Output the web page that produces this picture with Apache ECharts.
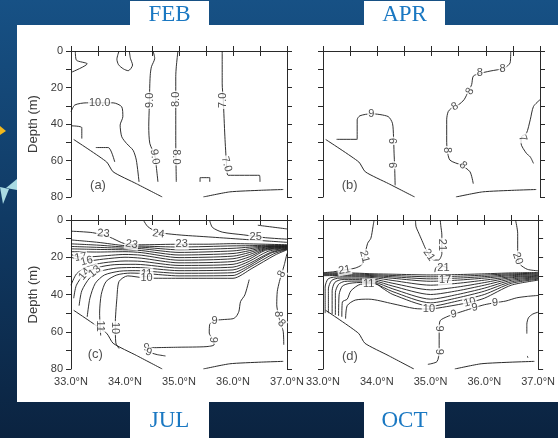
<!DOCTYPE html>
<html>
<head>
<meta charset="utf-8">
<script src="https://cdn.jsdelivr.net/npm/echarts@6/dist/echarts.min.js"></script>
<style>
  html, body { margin: 0; padding: 0; }
  #chart { width: 558px; height: 438px; }
</style>
</head>
<body>
<div id="chart"></div>
<script>
// Latitude / depth axes
const latTicks = [33.0, 34.0, 35.0, 36.0, 37.0];
const depthTicks = [0, 20, 40, 60, 80];
const panelMonths = ['FEB', 'APR', 'JUL', 'OCT'];
const panelTags = ['(a)', '(b)', '(c)', '(d)'];

// Sea-floor profile (same section in every month)
const bottomTopo = [
  [[33.05, 48.5], [33.66, 60.8], [33.78, 66.2], [34.21, 72.7], [34.69, 80]],
  [[35.45, 80], [35.94, 77.2], [36.53, 76.3], [36.93, 75.9]]
];

// February isotherms: [level, [lat, depth] ...]
const febLines = [
  [10, [[33.08, 0], [33.1, 5], [33.3, 7], [33.02, 11.5]]],
  [10, [[33.89, 0], [33.85, 4.5], [33.88, 7.5], [33.97, 9.8], [34.06, 10.8], [34.14, 7.7], [34.1, 4], [34.08, 0]]],
  [10, [[33.0, 33.3], [33.07, 29.6], [33.29, 28.4], [33.78, 28.4], [33.94, 30.6], [33.96, 36], [33.91, 40.6], [33.94, 47], [34.03, 50.7], [34.15, 54.4], [34.21, 59.8], [34.26, 71.7]]],
  [10, [[33.01, 41], [33.2, 42], [33.2, 48]]],
  [10, [[33.46, 52.9], [33.69, 52.9], [33.81, 60.8]]],
  [9, [[34.52, 0], [34.55, 4], [34.49, 8.6], [34.47, 12.3], [34.46, 17.8], [34.45, 30], [34.44, 41.5], [34.46, 50.7], [34.55, 57.1], [34.58, 63.5], [34.61, 71.7]]],
  [8, [[34.98, 0], [34.95, 8.6], [34.94, 14], [34.94, 37.9], [34.94, 48.9], [34.95, 71.7]]],
  [7, [[35.80, 0], [35.80, 18], [35.82, 26.9], [35.85, 47], [35.88, 61.7], [35.91, 68.1], [36.49, 68.1], [36.5, 71.7]]],
  [7, [[35.39, 71.7], [35.39, 69.4], [35.57, 69.4], [35.57, 71.7]]]
];
const febLabels = [
  [33.53, 28.4, '10.0', 0], [34.46, 27, '9.0', 90], [34.55, 58, '9.0', -80],
  [34.94, 26.5, '8.0', 90], [34.94, 58, '8.0', -90], [35.82, 27, '7.0', 90], [35.88, 62, '7.0', -75]
];

// April isotherms
const aprLines = [
  [9, [[33.25, 48.4], [33.63, 48.4], [33.63, 37.7], [33.68, 35.5], [33.89, 34.4], [34.2, 35.9], [34.28, 39.6], [34.3, 46.9], [34.31, 56], [34.32, 62.6], [34.33, 73.6]]],
  [8, [[36.46, 0.5], [36.45, 6.4], [36.34, 9.4], [36.08, 11], [35.89, 12.3], [35.77, 13.8], [35.74, 18.4], [35.68, 22.1], [35.6, 26.7], [35.5, 29.4], [35.41, 30.4], [35.31, 33.1], [35.28, 37.7], [35.28, 48.8], [35.29, 54.3], [35.34, 59.8], [35.55, 62.6], [35.71, 66.2], [35.77, 72.7]]],
  [7, [[37.0, 26.7], [36.88, 30.4], [36.82, 37.7], [36.75, 45.1], [36.66, 46.9], [36.65, 50.6], [36.75, 56.1], [36.82, 58], [36.88, 61.6]]]
];
const aprLabels = [
  [33.89, 34.4, '9', 0], [34.31, 49.3, '9', 90], [34.31, 62.6, '9', 90],
  [36.31, 9.6, '8', 0], [35.89, 12.3, '8', 0], [35.71, 22.1, '8', 60], [35.43, 30.4, '8', 30],
  [35.28, 54.3, '8', -90], [35.58, 62.6, '8', -45], [36.68, 47.8, '7', -70]
];

// July isotherms (strong thermocline)
const julLines = [
  [26, [[36.46, 2.8], [37.0, 4.8]]],
  [25, [[35.57, 0.5], [35.62, 4], [35.8, 6.5], [36.2, 8], [36.6, 9.5], [37.0, 10.3]]],
  [24, [[34.35, 0.5], [34.42, 3.5], [34.6, 6.5], [35.0, 8], [35.5, 9], [36.0, 10], [36.5, 11], [37.0, 12]]],
  [23, [[33.0, 6], [33.4, 6.8], [33.7, 9], [34.0, 12.8], [34.3, 13.3], [35.0, 13], [35.5, 13], [36.0, 12.7], [36.6, 13], [37.0, 13.3]]],
  [22, [[33.0, 10.7], [33.5, 12], [34.0, 13.8], [34.3, 14], [35.0, 14.5], [36.0, 13.9], [36.3, 13.8], [36.6, 13.6], [37.0, 13.6]]],
  [21, [[33.0, 12.8], [33.5, 13.5], [34.0, 14.5], [34.3, 14.6], [35.0, 16], [36.0, 15.2], [36.3, 14.6], [36.6, 14], [37.0, 13.8]]],
  [20, [[33.0, 14.2], [33.5, 14.7], [34.0, 15.2], [34.3, 15.4], [35.0, 17.4], [36.0, 16.6], [36.3, 15.5], [36.6, 14.3], [37.0, 14]]],
  [19, [[33.0, 15.5], [33.5, 15.8], [34.0, 16], [34.3, 16.4], [35.0, 18.8], [36.0, 18], [36.3, 16.5], [36.6, 14.6], [37.0, 14.2]]],
  [18, [[33.0, 17], [33.5, 17.2], [34.0, 17], [34.3, 17.5], [35.0, 20.2], [36.0, 19.4], [36.3, 17.5], [36.6, 15], [37.0, 14.4]]],
  [17, [[33.0, 18.5], [33.18, 20], [33.5, 19.5], [34.0, 18.5], [34.3, 18.9], [35.0, 21.6], [36.0, 20.8], [36.3, 18.6], [36.6, 15.4], [37.0, 14.6]]],
  [16, [[33.0, 20], [33.29, 22], [33.6, 21], [34.0, 20], [34.3, 20.5], [35.0, 23], [36.0, 22.3], [36.3, 19.8], [36.6, 15.8], [37.0, 14.8]]],
  [15, [[33.0, 35], [33.1, 29], [33.3, 25], [33.6, 23], [34.0, 22], [34.3, 22.2], [35.0, 24.4], [36.0, 23.8], [36.3, 21], [36.6, 16.3], [37.0, 15]]],
  [14, [[33.05, 42], [33.1, 35], [33.25, 29], [33.5, 25.5], [33.8, 24], [34.2, 23.8], [35.0, 25.8], [36.0, 25.3], [36.3, 22.2], [36.65, 16.8], [37.0, 15.2]]],
  [13, [[33.15, 46], [33.2, 38], [33.35, 31], [33.55, 27.5], [33.85, 25.8], [34.2, 25.5], [35.0, 27.2], [36.0, 26.8], [36.3, 23.4], [36.7, 17.3], [37.0, 15.4]]],
  [12, [[33.3, 52], [33.35, 42], [33.45, 34], [33.62, 29.5], [33.9, 27.5], [34.2, 27.2], [35.0, 28.6], [36.0, 28.3], [36.3, 24.5], [36.7, 17.8], [37.0, 15.6]]],
  [11, [[33.55, 62], [33.53, 50], [33.56, 40], [33.65, 33], [33.85, 29.5], [34.1, 28.5], [34.4, 28.8], [35.0, 30], [36.0, 29.8], [36.3, 25.5], [36.75, 18.2], [37.0, 15.8]]],
  [10, [[33.89, 69], [33.83, 66], [33.82, 56], [33.85, 42], [33.89, 33], [34.05, 30], [34.4, 31.2], [35.0, 31.3], [36.0, 31.3], [36.35, 26], [36.78, 18.8], [37.0, 16]]],
  [9, [[36.3, 32], [36.22, 40.2], [36.14, 43.8], [36.11, 49], [36.06, 51.8], [36.0, 53], [35.8, 53.5], [35.66, 54], [35.57, 56], [35.56, 60.7], [35.63, 64.3], [35.65, 67], [35.5, 68], [35.0, 68.3], [34.45, 68.6]]],
  [9, [[34.5, 71.5], [34.6, 72.3], [34.75, 73]]],
  [8, [[37.0, 18], [36.95, 24], [36.9, 29], [36.86, 33], [36.82, 38.4], [36.81, 45.5], [36.84, 50.9], [36.88, 55.5], [36.93, 59.8], [36.94, 67]]]
];
const julLabels = [
  [33.6, 7.3, '23', -5], [34.12, 13, '23', -10], [35.05, 13, '23', 0], [34.62, 7.4, '24', -8], [36.42, 9.3, '25', 0],
  [33.18, 20, '17', 10], [33.29, 22, '16', 15], [33.25, 29, '14', 50], [33.44, 27.6, '13', 40],
  [34.4, 28.8, '11', 0], [34.4, 31.3, '10', 0], [33.53, 57, '11', -90], [33.82, 58, '10', -90],
  [35.66, 54, '9', 0], [35.63, 64.3, '9', -90], [34.4, 68.6, '9', 0], [34.44, 71, '9', -20],
  [36.9, 29, '8', 60], [36.84, 50.5, '8', -90], [36.9, 55.5, '8', -45]
];

// October isotherms (deeper thermocline)
const octLines = [
  [21, [[33.95, 0], [33.93, 3.5], [33.89, 9.8], [33.83, 12.5], [33.77, 19.7], [33.72, 24], [33.6, 25.8], [33.4, 26.8], [33.2, 27.8], [33.0, 28.3]]],
  [21, [[34.72, 0], [34.73, 3.6], [34.78, 7], [34.84, 11], [34.9, 15], [34.97, 18.8], [35.05, 21.5], [35.15, 21.5], [35.21, 18], [35.21, 13.4], [35.21, 8], [35.19, 3], [35.18, 0]]],
  [21, [[35.08, 28], [35.1, 25.5], [35.2, 24.6], [35.32, 25.8]]],
  [20, [[36.58, 0], [36.62, 7.2], [36.62, 15.2], [36.62, 20.6], [36.67, 24], [36.8, 26.5], [37.0, 27.3]]],
  [20, [[33.0, 28.6], [33.3, 28.3], [33.6, 28.5], [33.95, 28.9], [34.3, 29.1], [35.0, 29.5], [35.5, 29.3], [36.0, 28.9], [36.5, 28.4], [37.0, 28.2]]],
  [19, [[33.0, 29], [33.3, 28.8], [33.6, 29], [33.95, 29.4], [34.3, 29.8], [35.0, 30.5], [35.5, 30.2], [36.0, 29.6], [36.5, 28.9], [37.0, 28.6]]],
  [18, [[33.0, 29.4], [33.3, 29.3], [33.6, 29.5], [33.95, 29.9], [34.3, 30.5], [35.0, 31.6], [35.5, 31.2], [36.0, 30.4], [36.5, 29.4], [37.0, 29]]],
  [17, [[33.0, 29.9], [33.3, 29.8], [33.6, 30], [33.95, 30.4], [34.3, 31.3], [35.0, 32.9], [35.5, 32.3], [36.0, 31.2], [36.5, 29.9], [37.0, 29.4]]],
  [16, [[33.04, 50], [33.04, 36], [33.1, 31.5], [33.3, 30.5], [33.6, 30.5], [33.95, 31], [34.3, 32.5], [35.0, 35], [35.5, 34], [36.0, 32.3], [36.5, 30.5], [37.0, 29.8]]],
  [15, [[33.1, 50], [33.1, 37], [33.16, 32.5], [33.3, 31.2], [33.6, 31.2], [33.95, 31.8], [34.3, 34], [35.0, 37.5], [35.5, 36], [36.0, 33.6], [36.5, 31], [37.0, 30.2]]],
  [14, [[33.17, 50.5], [33.17, 38], [33.22, 33.5], [33.35, 32], [33.6, 32], [33.95, 32.6], [34.3, 35.5], [35.0, 40], [35.5, 38], [36.0, 35], [36.5, 31.7], [37.0, 30.6]]],
  [13, [[33.23, 51], [33.23, 39], [33.29, 34.5], [33.4, 33], [33.65, 32.8], [33.95, 33.3], [34.3, 37], [35.0, 42.5], [35.5, 40], [36.0, 36.6], [36.5, 32.4], [37.0, 31]]],
  [12, [[33.29, 51.5], [33.3, 40], [33.36, 35.5], [33.5, 34], [33.75, 33.5], [33.95, 34], [34.3, 38.5], [35.0, 44.5], [35.5, 41.8], [36.0, 38.2], [36.5, 33.2], [37.0, 31.4]]],
  [11, [[33.35, 52], [33.36, 44], [33.45, 42.5], [33.52, 38], [33.7, 34.5], [33.98, 34.2], [34.1, 36.5], [34.3, 40], [35.0, 46.3], [35.5, 43.5], [36.0, 40], [36.5, 34], [37.0, 31.8]]],
  [10, [[33.42, 53], [33.45, 46], [33.6, 43], [33.85, 42.5], [34.3, 45], [34.7, 47.5], [34.97, 47.8], [35.3, 46.5], [35.73, 44.2], [36.0, 42], [36.5, 35], [37.0, 32.3]]],
  [9, [[34.95, 77.5], [35.12, 76], [35.16, 70], [35.16, 58], [35.18, 54], [35.3, 52], [35.43, 50.6], [35.6, 49], [35.82, 47], [36.0, 45.5], [36.2, 44.4], [36.4, 43.5], [36.6, 41.8], [36.8, 41], [37.0, 40.5]]],
  [8, [[37.0, 49.5], [36.9, 50.5], [36.82, 52.5], [36.79, 56], [36.79, 61]]],
  [8, [[36.8, 73], [36.81, 74]]]
];
const octLabels = [
  [33.77, 19.7, '21', -75], [33.4, 26.8, '21', 10], [34.97, 18.8, '21', -55], [35.21, 13.4, '21', -90],
  [35.24, 25.8, '21', 0], [35.27, 32.4, '17', 0], [33.85, 34.3, '11', 0],
  [34.97, 47.8, '10', 0], [35.73, 44.2, '10', 15], [35.43, 50.6, '9', 10], [35.82, 47, '9', 10], [36.2, 44.4, '9', 5],
  [35.16, 58.3, '9', -90], [35.16, 70.8, '9', -90], [36.62, 20.6, '20', -70]
];

const panelLines = [febLines, aprLines, julLines, octLines];
const panelLabels = [febLabels, aprLabels, julLabels, octLabels];
const panelTagPos = [[33.5, 73.5], [33.49, 73.6], [33.45, 72], [33.5, 73]];

const grids = [
  { left: 71, top: 51, width: 216, height: 146 },
  { left: 323, top: 51, width: 217, height: 146 },
  { left: 71, top: 220, width: 216, height: 149 },
  { left: 323, top: 220, width: 217, height: 149 }
];

const AX = '#2a2a2a';
const TXT = '#3a3a3a';
const FONT = 'Liberation Sans';

const xAxes = [], yAxes = [], series = [];
for (let i = 0; i < 4; i++) {
  const showX = i >= 2, showY = i % 2 === 0;
  const base = { type: 'value', gridIndex: i, min: 33, max: 37, interval: 0.5,
    axisLine: { lineStyle: { color: AX, width: 1 } },
    axisTick: { lineStyle: { color: AX }, length: 5 },
    splitLine: { show: false } };
  xAxes[i] = Object.assign({}, base, { position: 'bottom',
    axisLabel: { show: showX, color: TXT, fontFamily: FONT, fontSize: 11, margin: 7, showMinLabel: true, showMaxLabel: true,
      formatter: v => latTicks.indexOf(v) >= 0 ? v.toFixed(1) + '°N' : '' } });
  xAxes[i + 4] = Object.assign({}, base, { position: 'top', axisLabel: { show: false } });
  const ybase = { type: 'value', gridIndex: i, min: 0, max: 80, interval: 10, inverse: true,
    axisLine: { lineStyle: { color: AX, width: 1 } },
    axisTick: { lineStyle: { color: AX }, length: 5 },
    splitLine: { show: false } };
  yAxes[i] = Object.assign({}, ybase, { position: 'left',
    name: showY ? 'Depth (m)' : '', nameLocation: 'middle', nameGap: 31,
    nameTextStyle: { color: TXT, fontFamily: FONT, fontSize: 13 },
    axisLabel: { show: showY, color: TXT, fontFamily: FONT, fontSize: 11, margin: 8,
      formatter: v => depthTicks.indexOf(v) >= 0 ? String(v) : '' } });
  yAxes[i + 4] = Object.assign({}, ybase, { position: 'right', axisLabel: { show: false } });

  const lineStyle = { color: '#1a1a1a', width: 0.9 };
  panelLines[i].forEach(([level, pts]) => {
    series.push({ type: 'line', name: panelMonths[i] + ' ' + level, xAxisIndex: i, yAxisIndex: i,
      data: pts, showSymbol: false, smooth: 0.25, lineStyle, silent: true, z: 2 });
  });
  bottomTopo.forEach(pts => {
    series.push({ type: 'line', xAxisIndex: i, yAxisIndex: i, data: pts, showSymbol: false,
      smooth: 0.2, lineStyle: { color: '#2a2a2a', width: 1 }, silent: true, z: 2 });
  });
  // Contour value labels, drawn on a white patch that breaks the line
  const labelData = panelLabels[i].map(([x, y, t, r]) => ({ value: [x, y], name: t,
    label: { rotate: r } }));
  labelData.push({ value: panelTagPos[i], name: panelTags[i],
    label: { backgroundColor: 'transparent', fontSize: 13, rotate: 0 } });
  series.push({ type: 'scatter', xAxisIndex: i, yAxisIndex: i, data: labelData,
    symbol: 'circle', symbolSize: 1, itemStyle: { color: 'rgba(0,0,0,0)' }, silent: true, z: 5,
    label: { show: true, position: 'inside', formatter: '{b}', color: '#222', fontFamily: FONT,
      fontSize: 11, backgroundColor: '#fff', padding: [0, 1] },
    labelLayout: { hideOverlap: false } });
}

const monthBox = (x, y, w, h, text) => ({
  type: 'group', z: -5, children: [
    { type: 'rect', shape: { x, y, width: w, height: h }, style: { fill: '#fff' } },
    { type: 'text', x: x + w / 2, y: y + h / 2 + 1, style: { text, fill: '#1a78c2',
      font: '23px "Liberation Serif", serif', textAlign: 'center', textVerticalAlign: 'middle' } }
  ] });

const option = {
  animation: false,
  graphic: [
    { type: 'rect', z: -10, shape: { x: 0, y: 0, width: 558, height: 438 },
      style: { fill: new echarts.graphic.LinearGradient(0, 0, 0, 1, [
        { offset: 0, color: '#175185' }, { offset: 0.5, color: '#103a64' }, { offset: 1, color: '#0b2340' }]) } },
    { type: 'rect', z: -9, shape: { x: 17, y: 25, width: 541, height: 377 }, style: { fill: '#fff' } },
    { type: 'polygon', z: -9, shape: { points: [[0, 126], [6, 131], [0, 135]] }, style: { fill: '#f2b81c' } },
    { type: 'polygon', z: -9, shape: { points: [[17, 179], [17, 190], [6, 188]] }, style: { fill: '#a9dbe3' } },
    { type: 'polygon', z: -9, shape: { points: [[0, 187], [9, 189], [3, 204]] }, style: { fill: '#a9dbe3' } },
    monthBox(130, 1, 79, 25, panelMonths[0]),
    monthBox(364, 1, 81, 25, panelMonths[1]),
    monthBox(130, 401, 79, 37, panelMonths[2]),
    monthBox(364, 401, 81, 37, panelMonths[3])
  ],
  grid: grids,
  xAxis: xAxes,
  yAxis: yAxes,
  series
};

const chart = echarts.init(document.getElementById('chart'), null, { renderer: 'canvas' });
chart.setOption(option);
</script>
</body>
</html>
